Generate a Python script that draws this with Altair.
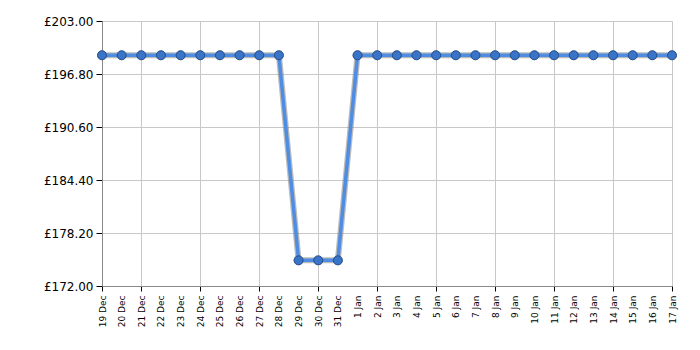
import altair as alt
import pandas as pd

dates = ["19 Dec", "20 Dec", "21 Dec", "22 Dec", "23 Dec", "24 Dec", "25 Dec", "26 Dec",
         "27 Dec", "28 Dec", "29 Dec", "30 Dec", "31 Dec", "1 Jan", "2 Jan", "3 Jan",
         "4 Jan", "5 Jan", "6 Jan", "7 Jan", "8 Jan", "9 Jan", "10 Jan", "11 Jan",
         "12 Jan", "13 Jan", "14 Jan", "15 Jan", "16 Jan", "17 Jan"]
prices = [198.99] * 10 + [175.00] * 3 + [198.99] * 17
grid_dates = ["19 Dec", "21 Dec", "24 Dec", "27 Dec", "30 Dec", "2 Jan", "5 Jan", "8 Jan",
              "11 Jan", "14 Jan", "17 Jan"]
y_ticks = [172.0, 178.2, 184.4, 190.6, 196.8, 203.0]

df = pd.DataFrame({"date": dates, "price": prices})

grid_test = "indexof(" + str(grid_dates).replace('"', "'") + ", datum.value) >= 0"

x = alt.X("date:N", sort=dates,
          scale=alt.Scale(type="point", padding=0),
          axis=alt.Axis(title=None, labelAngle=-90, labelFontSize=9, labelFont="DejaVu Sans",
                        labelColor="#000", labelAlign="right", labelBaseline="middle",
                        labelPadding=4, domainColor="#888", tickColor="#000", tickSize=5,
                        gridColor="#c8c8c8",
                        gridOpacity={"condition": {"test": grid_test, "value": 1}, "value": 0},
                        tickOpacity={"condition": {"test": grid_test, "value": 1}, "value": 0},
                        grid=True))
y = alt.Y("price:Q",
          scale=alt.Scale(domain=[172, 203], nice=False, zero=False),
          axis=alt.Axis(title=None, values=y_ticks, labelExpr="'£' + format(datum.value, '.2f')",
                        labelFontSize=12, labelFont="DejaVu Sans", labelColor="#000",
                        domainColor="#888", tickColor="#000", tickSize=6, labelPadding=3,
                        gridColor="#c8c8c8"))

base = alt.Chart(df)
shadow = base.mark_line(color="#777", strokeWidth=6, opacity=0.5).encode(x=x, y=y)
line = base.mark_line(color="#4f8de2", strokeWidth=3.5).encode(x=x, y=y)
pts_shadow = base.mark_point(filled=True, size=100, color="#555", opacity=0.35).encode(x=x, y=y)
pts = base.mark_point(filled=True, size=80, color="#3a74c8", stroke="#24508f",
                      strokeWidth=1, opacity=1).encode(x=x, y=y)

chart = alt.layer(shadow, line, pts_shadow, pts).properties(
    width=570, height=265,
    autosize=alt.AutoSizeParams(type="none"),
    padding={"left": 102, "top": 21, "right": 28, "bottom": 64},
).configure_view(stroke=None).configure(background="white")

chart.save("out.html", embed_options={"renderer": "svg", "actions": False})
